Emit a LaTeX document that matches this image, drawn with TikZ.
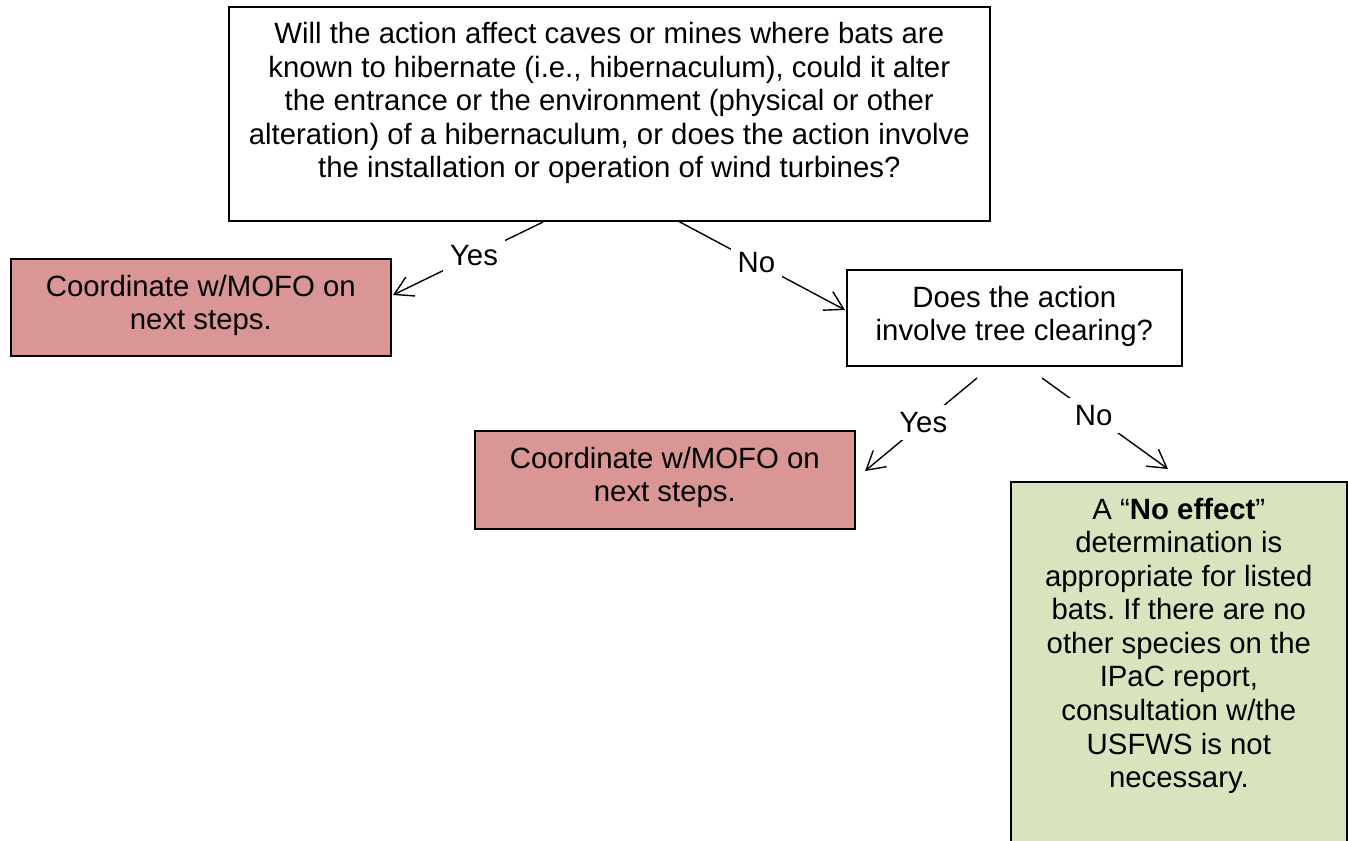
\documentclass[tikz,border=0pt]{standalone}
\usepackage{fontspec}
\setmainfont{Liberation Sans}
\usetikzlibrary{arrows.meta,positioning}
\definecolor{stopred}{HTML}{D99694}
\definecolor{okgreen}{HTML}{D7E4BD}
\frenchspacing
\begin{document}
\begin{tikzpicture}[x=0.02cm, y=-0.02cm,
    box/.style={draw, line width=1pt, inner sep=0pt, anchor=north west},
    txt/.style={align=center, inner sep=0pt, anchor=north, font=\fontsize{16.7}{19.1}\selectfont,
      execute at begin node=\rule{0pt}{0.6cm}},
    lbl/.style={fill=white, inner sep=4pt, font=\fontsize{16.7}{19.1}\selectfont},
    link/.style={line width=0.8pt, -{Straight Barb[length=0.36cm,width=0.42cm,line width=0.8pt]}}]
      \clip (0,0) rectangle (1348,840);

      \node[box, minimum width=15.22cm, minimum height=4.28cm] (q1) at (228,6) {};
      \node[box, fill=stopred, minimum width=7.6cm, minimum height=1.94cm] (r1) at (10,258) {};
      \node[box, minimum width=6.7cm, minimum height=1.92cm] (q2) at (846,269) {};
      \node[box, fill=stopred, minimum width=7.6cm, minimum height=1.96cm] (r2) at (474,430) {};
      \node[box, fill=okgreen, minimum width=6.72cm, minimum height=7.6cm] (ok) at (1010,481) {};

      \node[txt] (q1text) at ([yshift=-0.32cm]q1.north) {Will the action affect caves or mines where bats are\\
        known to hibernate (i.e., hibernaculum), could it alter\\
        the entrance or the environment (physical or other\\
        alteration) of a hibernaculum, or does the action involve\\
        the installation or operation of wind turbines?};
      \node[txt] (r1text) at ([yshift=-0.33cm]r1.north) {Coordinate w/MOFO on\\next steps.};
      \node[txt] (q2text) at ([yshift=-0.33cm]q2.north) {Does the action\\involve tree clearing?};
      \node[txt] (r2text) at ([yshift=-0.33cm]r2.north) {Coordinate w/MOFO on\\next steps.};
      \node[txt] (oktext) at ([yshift=-0.33cm]ok.north) {A “\textbf{No effect}”\\determination is\\appropriate for listed\\bats. If there are no\\other species on the\\IPaC report,\\consultation w/the\\USFWS is not\\necessary.};

      \coordinate (q1yes) at (543,222);
      \coordinate (q1no) at (678,221);
      \coordinate (r1tip) at (393,295);
      \coordinate (q2tip) at (845,310);
      \coordinate (q2yes) at (977,378);
      \coordinate (q2no) at (1042,378);
      \coordinate (r2tip) at (865,471);
      \coordinate (oktip) at (1168,469);

      \draw[link] (q1yes) -- node[lbl, pos=0.46] (yes1) {Yes} (r1tip);
      \draw[link] (q1no) -- node[lbl, pos=0.47] (no1) {No} (q2tip);
      \draw[link] (q2yes) -- node[lbl, pos=0.48] (yes2) {Yes} (r2tip);
      \draw[link] (q2no) -- node[lbl, pos=0.41] (no2) {No} (oktip);
    \end{tikzpicture}
\end{document}
